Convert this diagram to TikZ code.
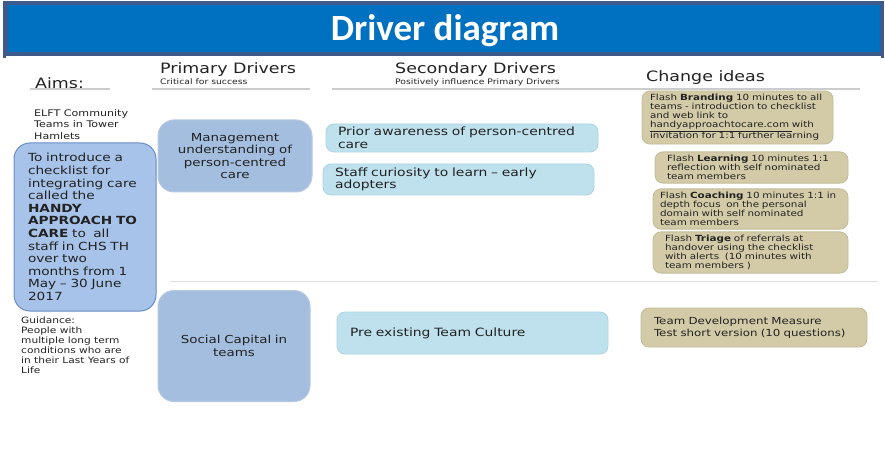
\documentclass[tikz,border=0pt]{standalone}
\usepackage{fontspec}
\setmainfont[FakeStretch=1.22]{DejaVu Sans}
\newfontfamily\titlefont{Carlito}
\usepackage{tikz}

\definecolor{titleblue}{HTML}{0070C0}
\definecolor{titleedge}{HTML}{3C5A8A}
\definecolor{aimfill}{HTML}{A7C3E9}
\definecolor{aimline}{HTML}{6A8CC4}
\definecolor{primfill}{HTML}{A3BEDF}
\definecolor{primline}{HTML}{B7C9E1}
\definecolor{secfill}{HTML}{BFE1EE}
\definecolor{secline}{HTML}{AAD3E3}
\definecolor{ideafill}{HTML}{D3CBA7}
\definecolor{idealine}{HTML}{C2BB99}
\definecolor{inktext}{HTML}{222222}
\definecolor{rulegray}{HTML}{CCCCCC}

\tikzset{
  head/.style={anchor=west, inner sep=0pt, text=inktext, font=\fontsize{14.3}{16}\selectfont},
  subhead/.style={anchor=west, inner sep=0pt, text=inktext, font=\fontsize{7.6}{8}\selectfont},
  aimbox/.style={draw=aimline, line width=1pt, fill=aimfill, rounded corners=16pt, inner xsep=0pt, text=inktext, align=left, font=\fontsize{11.2}{12.6}\selectfont},
  primbox/.style={draw=primline, line width=1pt, fill=primfill, rounded corners=16pt, text=inktext, align=center, font=\fontsize{11}{12.6}\selectfont},
  secbox/.style={draw=secline, line width=0.8pt, fill=secfill, rounded corners=8pt, inner xsep=0pt, text=inktext, align=left, font=\fontsize{11.4}{12.5}\selectfont},
  ideabox/.style={draw=idealine, line width=0.8pt, fill=ideafill, rounded corners=8pt, inner xsep=0pt, text=inktext, align=left, font=\fontsize{8.5}{9}\selectfont},
  hline/.style={draw=rulegray, line width=1.3pt}
}

\begin{document}
\begin{tikzpicture}[x=1pt, y=-1pt]
\useasboundingbox (0,0) rectangle (885,462);
\fill[white] (0,0) rectangle (885,462);

\fill[titleedge] (3,1) rectangle (884,56);
\fill[titleedge] (3,56) rectangle (6,58);
\fill[titleedge] (881,56) rectangle (884,58);
\fill[titleblue] (8,5) rectangle (880,52);
\node[text=white, font=\titlefont\bfseries\fontsize{37}{40}\selectfont] (title) at (445,31) {Driver diagram};

\node[head] (aimshead) at (35,83) {Aims:};
\node[head] (primhead) at (160,70) {Primary Drivers};
\node[subhead] (primsub) at (160,82) {Critical for success};
\node[head] (sechead) at (395,70) {Secondary Drivers};
\node[subhead] (secsub) at (395,82) {Positively influence Primary Drivers};
\node[head] (ideahead) at (646,78) {Change ideas};

\draw[hline] (30,89) -- (110,89);
\draw[hline] (152,89) -- (310,89);
\draw[hline] (332,89) -- (860,89);
\draw[draw=rulegray!60, line width=1pt] (170,281) -- (878,281);

\node[anchor=north west, inner sep=0pt, align=left, text=inktext, font=\fontsize{9.1}{11.5}\selectfont] (team) at (34,109) {ELFT Community\\Teams in Tower\\Hamlets};

\node[aimbox, minimum width=142pt, minimum height=168pt, text width=114pt] (aim) at (85,227)
  {To introduce a\\checklist for\\integrating care\\called the\\\textbf{HANDY}\\\textbf{APPROACH TO}\\\textbf{CARE} to\ \ all\\staff in CHS TH\\over two\\months from 1\\May -- 30 June\\2017};

\node[anchor=north west, inner sep=0pt, align=left, text=inktext, font=\fontsize{8.7}{10}\selectfont] (guide) at (21,317)
  {Guidance:\\People with\\multiple long term\\conditions who are\\in their Last Years of\\Life};

\node[primbox, minimum width=154pt, minimum height=72pt, text width=140pt] (mgmt) at (235,156)
  {Management\\understanding of\\person-centred\\care};
\node[primbox, minimum width=152pt, minimum height=111pt, text width=140pt] (social) at (234,346)
  {Social Capital in\\teams};

\node[secbox, minimum width=272pt, minimum height=28pt, text width=248pt] (prior) at (462,138)
  {Prior awareness of person-centred\\care};
\node[secbox, minimum width=271pt, minimum height=31pt, text width=247pt] (curious) at (458.5,179.5)
  {Staff curiosity to learn -- early\\adopters};
\node[secbox, minimum width=271pt, minimum height=42pt, text width=245pt] (culture) at (472.5,333)
  {Pre existing Team Culture};

\node[ideabox, minimum width=191pt, minimum height=51pt, text width=175pt] (brand) at (737.5,117.5)
  {Flash \textbf{Branding} 10 minutes to all\\teams - introduction to checklist\\and web link to\\\underline{handyapproachtocare.com\ }with\\invitation for 1:1 further learning};
\node[ideabox, minimum width=193pt, minimum height=31pt, text width=169pt] (learn) at (751.5,167.5)
  {Flash \textbf{Learning} 10 minutes 1:1\\reflection with self nominated\\team members};
\node[ideabox, minimum width=195pt, minimum height=38pt, text width=181pt] (coach) at (750.5,209)
  {Flash \textbf{Coaching} 10 minutes 1:1 in\\depth focus\ \ on the personal\\domain with self nominated\\team members};
\node[ideabox, minimum width=195pt, minimum height=39pt, text width=171pt] (triage) at (750.5,252.5)
  {Flash \textbf{Triage} of referrals at\\handover using the checklist\\with alerts\ \ (10 minutes with\\team members )};
\node[ideabox, minimum width=226pt, minimum height=39pt, text width=200pt, font=\fontsize{9.7}{12}\selectfont] (measure) at (754,327.5)
  {Team Development Measure\\Test short version (10 questions)};
\end{tikzpicture}
\end{document}
